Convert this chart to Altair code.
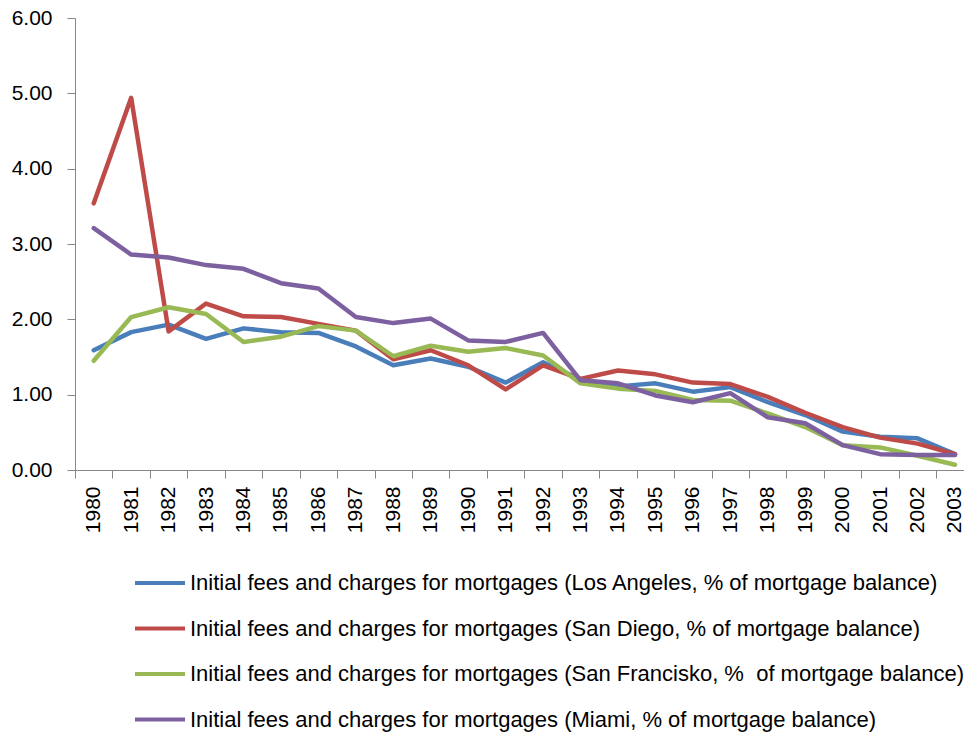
import altair as alt
import pandas as pd

years = list(range(1980, 2004))

series_names = [
    "Initial fees and charges for mortgages (Los Angeles, % of mortgage balance)",
    "Initial fees and charges for mortgages (San Diego, % of mortgage balance)",
    "Initial fees and charges for mortgages (San Francisko, %\u00a0 of mortgage balance)",
    "Initial fees and charges for mortgages (Miami, % of mortgage balance)",
]
series_colors = ["#4A7EBB", "#BE4B48", "#98B954", "#7D60A0"]

los_angeles = [1.59, 1.83, 1.93, 1.74, 1.88, 1.83, 1.82, 1.64, 1.39, 1.48, 1.37, 1.16,
               1.43, 1.20, 1.11, 1.15, 1.04, 1.10, 0.90, 0.73, 0.51, 0.44, 0.42, 0.21]
san_diego = [3.54, 4.94, 1.84, 2.21, 2.04, 2.03, 1.94, 1.85, 1.47, 1.59, 1.39, 1.07,
             1.39, 1.21, 1.32, 1.27, 1.16, 1.14, 0.97, 0.76, 0.57, 0.43, 0.35, 0.21]
san_francisko = [1.45, 2.03, 2.16, 2.07, 1.70, 1.77, 1.91, 1.85, 1.51, 1.65, 1.57, 1.62,
                 1.52, 1.15, 1.08, 1.05, 0.93, 0.92, 0.75, 0.57, 0.33, 0.30, 0.19, 0.07]
miami = [3.21, 2.86, 2.82, 2.72, 2.67, 2.48, 2.41, 2.03, 1.95, 2.01, 1.72, 1.70,
         1.82, 1.19, 1.15, 0.99, 0.90, 1.02, 0.70, 0.62, 0.33, 0.21, 0.20, 0.20]

y_ticks = [0, 1, 2, 3, 4, 5, 6]

all_values = [los_angeles, san_diego, san_francisko, miami]
rows = []
for name, vals in zip(series_names, all_values):
    for yr, v in zip(years, vals):
        rows.append({"year": yr, "value": v, "series": name})
df = pd.DataFrame(rows)

FONT = "Liberation Sans"
AXIS_GRAY = "#868686"

x_enc = alt.X(
    "year:Q",
    scale=alt.Scale(domain=[1979.5, 2003.24], nice=False, zero=False),
    axis=alt.Axis(
        values=[y - 0.5 for y in years],
        labelExpr="format(datum.value + 0.5, 'd')",
        labelOffset=18.7,
        labelAngle=270,
        labelAlign="right",
        labelBaseline="middle",
        tickSize=8,
        labelPadding=8,
        labelFlush=False,
        labelOverlap=False,
        labelBound=False,
        grid=False,
        title=None,
        domainColor=AXIS_GRAY,
        tickColor=AXIS_GRAY,
        labelFont=FONT,
        labelFontSize=21,
        labelColor="black",
    ),
)
y_enc = alt.Y(
    "value:Q",
    scale=alt.Scale(domain=[0, 6], nice=False),
    axis=alt.Axis(
        values=y_ticks,
        format=".2f",
        tickSize=8,
        labelPadding=15,
        grid=False,
        title=None,
        domainColor=AXIS_GRAY,
        tickColor=AXIS_GRAY,
        labelFont=FONT,
        labelFontSize=21,
        labelColor="black",
    ),
)
color_enc = alt.Color(
    "series:N",
    scale=alt.Scale(domain=series_names, range=series_colors),
    legend=alt.Legend(
        orient="none",
        legendX=58,
        legendY=538,
        title=None,
        direction="vertical",
        symbolType="stroke",
        symbolSize=2500,
        symbolStrokeWidth=4,
        labelFont=FONT,
        labelFontSize=22,
        labelColor="black",
        labelLimit=1000,
        labelOffset=3,
        rowPadding=7.5,
        padding=0,
    ),
)

layers = []
for name in series_names:
    layers.append(
        alt.Chart(df)
        .transform_filter(alt.datum.series == name)
        .mark_line(strokeWidth=4.5, strokeCap="round", strokeJoin="round")
        .encode(x=x_enc, y=y_enc, color=color_enc)
    )

chart = (
    alt.layer(*layers)
    .properties(
        width=889,
        height=452,
        autosize="none",
        padding={"left": 67, "top": 10, "right": 0, "bottom": 262},
        background="white",
    )
    .configure_view(stroke=None)
)

chart.save("out.html", embed_options={"renderer": "svg", "actions": False})
